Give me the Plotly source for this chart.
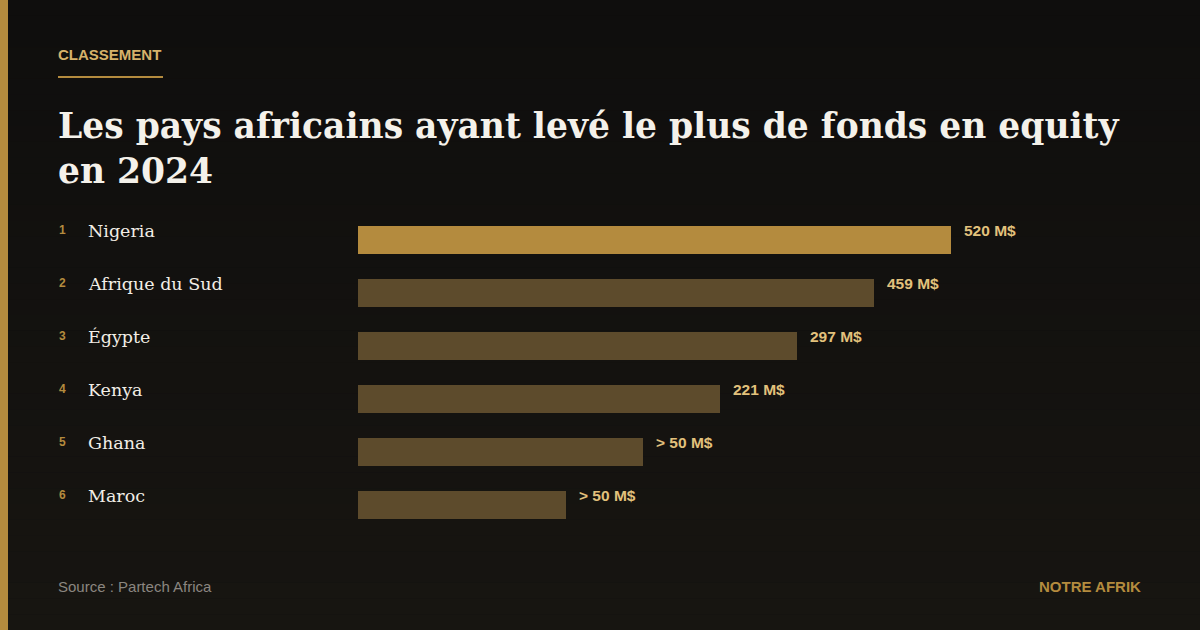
import plotly.graph_objects as go

W, H = 1200, 630

# ---- data ----
ranks = [1, 2, 3, 4, 5, 6]
countries = ["Nigeria", "Afrique du Sud", "Égypte", "Kenya", "Ghana", "Maroc"]
value_labels = ["520 M$", "459 M$", "297 M$", "221 M$", "> 50 M$", "> 50 M$"]
bar_length = [100, 87, 74, 61, 48, 35]  # relative bar length (% of the longest)

title = "Les pays africains ayant levé le plus de fonds en equity<br>en 2024"
kicker = "CLASSEMENT"
source = "Source : Partech Africa"
brand = "NOTRE AFRIK"

GOLD = "#b48b3e"
DARK_GOLD = "#5d4b2c"
LABEL_GOLD = "#e2c17c"


def px(x):
    return x / W


def py(y):
    return 1 - y / H


idx = list(range(len(countries)))
colors = [GOLD if i == 0 else DARK_GOLD for i in idx]

fig = go.Figure()
fig.add_trace(go.Bar(
    x=bar_length, y=idx, orientation="h",
    marker=dict(color=colors, line=dict(width=0)),
    width=28 / 53, hoverinfo="skip",
))

# background gradient bands
shapes = []
n = 40
c0 = (15, 14, 13)
c1 = (23, 21, 17)
for k in range(n):
    t = k / (n - 1)
    c = tuple(round(c0[j] + (c1[j] - c0[j]) * t) for j in range(3))
    shapes.append(dict(type="rect", xref="paper", yref="paper", layer="below",
                       x0=0, x1=1, y0=1 - (k + 1) / n, y1=1 - k / n,
                       fillcolor="rgb(%d,%d,%d)" % c, line=dict(width=0)))
# left stripe
shapes.append(dict(type="rect", xref="paper", yref="paper", layer="above",
                   x0=0, x1=px(8), y0=0, y1=1, fillcolor=GOLD, line=dict(width=0)))
# kicker underline
shapes.append(dict(type="rect", xref="paper", yref="paper", layer="above",
                   x0=px(58), x1=px(163), y0=py(78), y1=py(76), fillcolor=GOLD, line=dict(width=0)))

ann = []
ann.append(dict(text="<b>" + kicker + "</b>", xref="paper", yref="paper", x=px(56), y=py(54),
                xanchor="left", yanchor="middle", showarrow=False,
                font=dict(family="Liberation Sans, Arial", size=15, color="#d6b26a")))
ann.append(dict(text="<b>" + title + "</b>", xref="paper", yref="paper", x=px(56), y=py(104),
                xanchor="left", yanchor="top", showarrow=False, align="left",
                font=dict(family="DejaVu Serif, serif", size=34.5, color="#f4f1ea")))
ann.append(dict(text=source, xref="paper", yref="paper", x=px(56), y=py(586),
                xanchor="left", yanchor="middle", showarrow=False,
                font=dict(family="Liberation Sans, Arial", size=15, color="#8b8680")))
ann.append(dict(text="<b>" + brand + "</b>", xref="paper", yref="paper", x=px(1143), y=py(586),
                xanchor="right", yanchor="middle", showarrow=False,
                font=dict(family="Liberation Sans, Arial", size=15, color=GOLD)))

for i in idx:
    ann.append(dict(text="<b>%d</b>" % ranks[i], xref="paper", yref="y", x=px(57), y=i,
                    yshift=9, xanchor="left", yanchor="middle", showarrow=False,
                    font=dict(family="Liberation Sans, Arial", size=12, color=GOLD)))
    ann.append(dict(text=countries[i], xref="paper", yref="y", x=px(86), y=i,
                    yshift=8, xanchor="left", yanchor="middle", showarrow=False,
                    font=dict(family="DejaVu Serif, serif", size=17.5, color="#f2eee6")))
    ann.append(dict(text="<b>" + value_labels[i] + "</b>", xref="x", yref="y", x=bar_length[i], y=i,
                    xshift=11, yshift=9, xanchor="left", yanchor="middle", showarrow=False,
                    font=dict(family="Liberation Sans, Arial", size=15.5, color=LABEL_GOLD)))

fig.update_layout(
    width=W, height=H, margin=dict(l=0, r=0, t=0, b=0),
    paper_bgcolor="#121110", plot_bgcolor="rgba(0,0,0,0)",
    showlegend=False, shapes=shapes, annotations=ann,
    xaxis=dict(domain=[px(358), px(951)], range=[0, 100], visible=False, fixedrange=True),
    yaxis=dict(domain=[py(530.5), py(212.5)], range=[5.5, -0.5], visible=False, fixedrange=True),
    bargap=0,
)

fig.write_html("out.html", config={"displayModeBar": False},
               post_script="document.body.style.margin='0';document.body.style.background='#121110';")
